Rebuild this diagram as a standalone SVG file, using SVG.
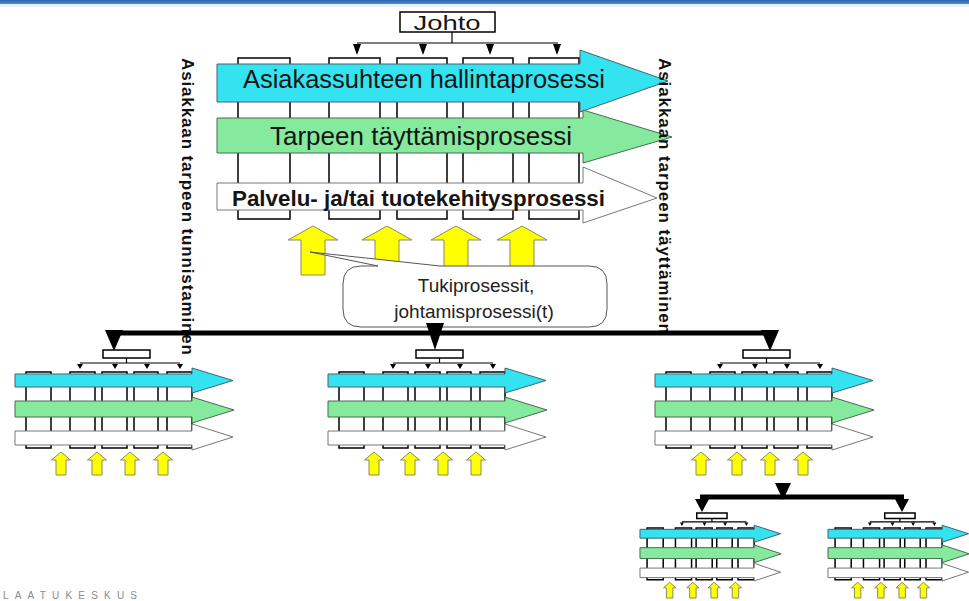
<svg xmlns="http://www.w3.org/2000/svg" xmlns:xlink="http://www.w3.org/1999/xlink" width="969" height="601" viewBox="0 0 969 601">
<defs>
<style>
.col{fill:#fff;stroke:#000;stroke-width:1.5}
.ln{fill:none;stroke:#000;stroke-width:1.2}
.thick{fill:none;stroke:#000;stroke-width:5}
.ah{fill:#000}
.cyan{fill:#33e3f0;stroke:#4a6070;stroke-width:1}
.green{fill:#86ea9e;stroke:#4a6a50;stroke-width:1}
.wband{fill:#fff;stroke:#777;stroke-width:1}
.yel{fill:#ffff00;stroke:#8a8a60;stroke-width:1}
.m{vector-effect:non-scaling-stroke}
.band{font-family:"Liberation Sans",Arial,sans-serif;fill:#151515}
.vert{font-family:"Liberation Sans",Arial,sans-serif;font-size:17px;font-weight:bold;fill:#111}
.call{font-family:"Liberation Sans",Arial,sans-serif;font-size:19px;fill:#222;text-anchor:middle}
</style>
<linearGradient id="topg" x1="0" y1="0" x2="0" y2="1">
<stop offset="0" stop-color="#2a62b2"/>
<stop offset="1" stop-color="#4f8ad6"/>
</linearGradient>
<g id="modM">
<rect class="col m" x="103" y="350" width="47" height="8"/>
<path class="ln m" d="M126.5 358V363M80 363H180"/>
<path class="ah" d="M77 364H83L80 369ZM112 364H118L115 369ZM144 364H150L147 369ZM177 364H183L180 369Z"/>
<rect class="col m" x="26" y="372" width="25" height="76"/>
<rect class="col m" x="70" y="372" width="25" height="76"/>
<rect class="col m" x="102" y="372" width="25" height="76"/>
<rect class="col m" x="134" y="372" width="24" height="76"/>
<rect class="col m" x="167" y="372" width="25" height="76"/>
<path class="cyan m" d="M15 374H192V368L233 380.5L192 393V387H15Z"/>
<path class="green m" d="M15 401H192V397L234 410L192 423V417H15Z"/>
<path class="wband m" d="M15 431H192V424L233 437L192 450V445H15Z"/>
<path class="yel m" d="M51.5 460L61 452L70.5 460H66V475H56V460Z"/>
<path class="yel m" d="M87.5 460L97 452L106.5 460H102V475H92V460Z"/>
<path class="yel m" d="M120.5 460L130 452L139.5 460H135V475H125V460Z"/>
<path class="yel m" d="M153.5 460L163 452L172.5 460H168V475H158V460Z"/>
</g>
</defs>
<rect x="0" y="0" width="969" height="601" fill="#fff"/>
<g id="top-bar">
<rect x="0" y="0" width="969" height="4" fill="url(#topg)"/>
<rect x="0" y="4" width="969" height="3" fill="#e6f0fa"/>
</g>

<g id="main-module">
<g id="johto">
<rect class="col" x="400" y="12" width="95" height="20"/>
<text class="band" x="447" y="30" font-size="20" text-anchor="middle" textLength="67" lengthAdjust="spacingAndGlyphs">Johto</text>
</g>
<g id="main-columns">
<rect class="col" x="238" y="58" width="52" height="161"/>
<rect class="col" x="329" y="58" width="51" height="161"/>
<rect class="col" x="397" y="58" width="50" height="161"/>
<rect class="col" x="463" y="58" width="50" height="161"/>
<rect class="col" x="529" y="58" width="50" height="161"/>
</g>
<g id="asiakassuhde">
<path class="cyan" d="M217 64H580V50L668 81L580 112V102H217Z"/>
<text class="band" x="243" y="88" font-size="25" textLength="362" lengthAdjust="spacingAndGlyphs">Asiakassuhteen hallintaprosessi</text>
</g>
<g id="tarpeen-tayttaminen">
<path class="green" d="M217 118H583V110L672 137L583 163V153H217Z"/>
<text class="band" x="270" y="145" font-size="25" textLength="302" lengthAdjust="spacingAndGlyphs">Tarpeen täyttämisprosessi</text>
</g>
<g id="tuotekehitys">
<path class="wband" d="M217 183H583V167L657 198L583 223V210H217Z"/>
<text class="band" x="232" y="206" font-size="22" font-weight="bold" textLength="373" lengthAdjust="spacingAndGlyphs">Palvelu- ja/tai tuotekehitysprosessi</text>
</g>
<g id="main-support-arrows">
<path class="yel" d="M288 240L313 226L338 240H325V275H301V240Z"/>
<path class="yel" d="M362 240L387 226L412 240H399V275H375V240Z"/>
<path class="yel" d="M431 240L456 226L481 240H468V275H444V240Z"/>
<path class="yel" d="M497 240L522 226L547 240H534V275H510V240Z"/>
</g>
</g>

<g id="callout">
<path d="M361 266L378 266L310 252L440 266L589 266Q607 266 607 284L607 309Q607 327 589 327L361 327Q343 327 343 309L343 284Q343 266 361 266Z" fill="#fff" stroke="#555" stroke-width="1"/>
<text class="call" x="476" y="292">Tukiprosessit,</text>
<text class="call" x="474" y="318">johtamisprosessi(t)</text>
</g>

<g id="label-left">
<text class="vert" transform="translate(182,58) rotate(90)" textLength="297" lengthAdjust="spacing">Asiakkaan tarpeen tunnistaminen</text>
</g>
<g id="label-right">
<text class="vert" transform="translate(659,58) rotate(90)" textLength="276" lengthAdjust="spacing">Asiakkaan tarpeen täyttäminen</text>
</g>

<g id="connectors">
<path class="ln" d="M452 32V43M357 43H558"/>
<path class="ah" d="M353 44H361L357 55ZM419 44H427L423 55ZM486 44H494L490 55ZM553 44H561L557 55Z"/>
<path class="thick" d="M110 333H775"/>
<path class="ah" d="M105 330H123L114 351ZM426 323H444L435 350ZM761 330H779L770 351Z"/>
<path class="thick" d="M700 497H904"/>
<path class="ah" d="M775 483H791L783 500ZM695 499H709L702 512ZM895 499H909L902 512Z"/>
</g>

<g id="module-1"><use xlink:href="#modM" href="#modM"/></g>
<g id="module-2"><use xlink:href="#modM" href="#modM" transform="translate(313,0)"/></g>
<g id="module-3"><use xlink:href="#modM" href="#modM" transform="translate(640,0)"/></g>
<g id="module-3a"><use xlink:href="#modM" href="#modM" transform="matrix(0.645 0 0 0.68 630.3 275)"/></g>
<g id="module-3b"><use xlink:href="#modM" href="#modM" transform="matrix(0.645 0 0 0.68 818.3 275)"/></g>

<g id="logo">
<text x="3" y="599" font-family="Liberation Sans,Arial,sans-serif" font-size="10" fill="#8a8a8a" textLength="134" lengthAdjust="spacing">LAATUKESKUS</text>
</g>
</svg>
